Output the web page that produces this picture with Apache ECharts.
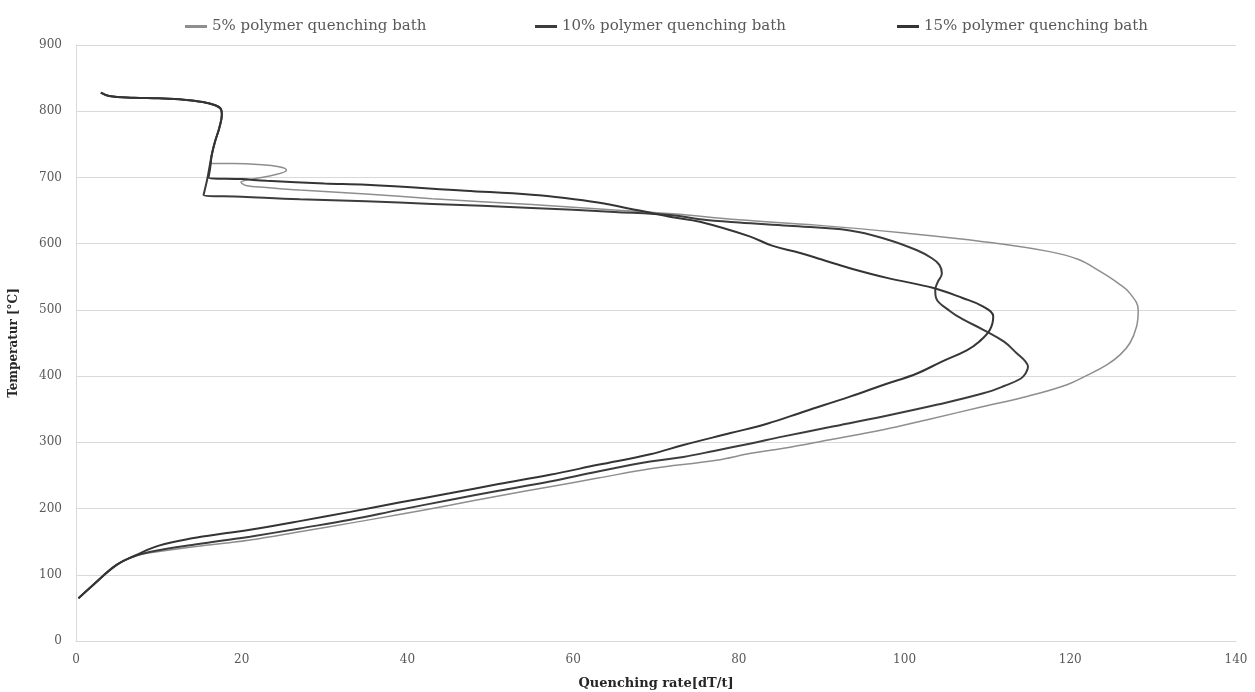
<!DOCTYPE html>
<html>
<head>
<meta charset="utf-8">
<title>Quenching rate vs temperature</title>
<script src="https://cdn.jsdelivr.net/npm/echarts@6/dist/echarts.min.js"></script>
<style>
  html, body { margin: 0; padding: 0; background: #ffffff; }
  #chart { width: 1255px; height: 692px; }
</style>
</head>
<body>
<div id="chart"></div>
<script>
// Cooling curves: quenching rate [dT/t] against temperature [°C]
const seriesNames = ['5% polymer quenching bath', '10% polymer quenching bath', '15% polymer quenching bath'];

const rate5 = [3, 4, 7, 10, 13, 15.3, 16.8, 17.5, 17.6, 17.3, 16.8, 16.4, 16.2, 19, 22, 24.5, 25.4, 24, 21.5, 19.9, 20.5, 23, 27, 35, 43, 55, 65, 72, 80, 89.4, 100, 109.5, 117.5, 121, 123.6, 125.8, 127.2, 128.2, 128, 127.2, 126, 124.4, 122, 119.6, 115, 109.5, 103, 97.4, 91, 85.4, 81.3, 77.3, 69.3, 63, 57.2, 51, 45.1, 39, 33.1, 27, 21, 18.2, 14, 10, 7.3, 4.9, 2.1, 0.3];
const temp5 = [828, 823, 820.5, 819.5, 817.5, 814, 809, 803, 795, 775, 755, 735, 721, 721, 719.5, 716, 711, 704, 698, 693, 688, 685, 681, 675, 668, 659, 651, 645, 636, 628, 616, 603, 588, 576, 558, 540, 525, 500, 475, 450, 432, 417, 401, 387, 370, 354, 335, 319, 304, 291, 283, 273, 260, 246, 233, 219, 205, 191, 178, 165, 152.5, 148, 142, 135, 129, 115, 85, 64.5];

const rate10 = [3, 4, 7, 10, 13, 15.3, 16.8, 17.5, 17.6, 17.3, 16.8, 16.4, 16.1, 15.8, 15.4, 20, 27, 35, 43, 55, 65, 72, 75.3, 80, 86, 93.4, 98, 101.5, 103.3, 104.2, 104.5, 104, 103.7, 103.8, 105.5, 107, 109.5, 112, 113.5, 114.6, 114.9, 114.6, 114, 112, 109.5, 104, 97.4, 91, 85.4, 81.3, 77, 73.3, 69.3, 63, 57.2, 51, 45.1, 39, 33.1, 27, 21, 18.2, 14, 10, 7.3, 4.9, 2.1, 0.3];
const temp10 = [828, 823, 820.5, 819.5, 817.5, 814, 809, 803, 795, 775, 755, 735, 715, 695, 673.5, 671, 667, 664, 660, 654, 648, 643, 637, 632, 627, 620, 606, 590, 578, 568, 555, 542, 530, 518, 498, 486, 470, 452, 435, 422, 414, 404, 396, 385, 374, 357, 339, 323, 309, 298, 287, 278, 271, 256, 241, 227, 213, 198, 183, 170, 157.5, 152.5, 145, 137, 129, 115, 85, 64.5];

const rate15 = [3, 4, 7, 10, 13, 15.3, 16.8, 17.5, 17.6, 17.3, 16.8, 16.4, 16.2, 16, 20, 23, 30, 35, 47, 55, 59, 63, 68, 72, 75.3, 81.3, 84, 87.4, 90, 93.4, 98, 103.5, 107, 109.5, 110.7, 110.3, 109, 107.5, 104.5, 101.5, 97.5, 93.4, 88, 83.4, 79, 73.3, 69.3, 63, 57.2, 51, 45.1, 39, 33.1, 27, 21, 18.2, 14, 10, 7.3, 4.9, 2.1, 0.3];
const temp15 = [828, 823, 820.5, 819.5, 817.5, 814, 809, 803, 795, 775, 755, 735, 715, 700, 697.5, 695, 691, 689, 680, 674, 669, 662, 650, 640, 633, 611, 597, 586, 576, 563, 548, 533, 518, 505, 490, 470, 452, 439, 422, 404, 387, 369, 347, 328, 314, 296, 282, 266, 251, 237, 223, 209, 195, 181, 168, 163, 155, 144, 130, 115, 85, 64.5];

const lineColors = ['#8e8e8e', '#3c3c3c', '#343434'];
const lineWidths = [1.5, 2, 2];
const legendLeft = [180, 530, 892];

function pairs(xs, ys) {
  return xs.map((x, i) => [x, ys[i]]);
}

const curves = [pairs(rate5, temp5), pairs(rate10, temp10), pairs(rate15, temp15)];

const FONT = 'DejaVu Serif';
const chart = echarts.init(document.getElementById('chart'), null, { renderer: 'canvas' });

chart.setOption({
  animation: false,
  backgroundColor: '#ffffff',
  textStyle: { fontFamily: FONT },
  // one legend block per series so each entry sits at its own place along the top
  legend: seriesNames.map((n, i) => ({
    top: 14,
    left: legendLeft[i],
    itemWidth: 22,
    itemHeight: 3,
    icon: 'rect',
    textStyle: { fontFamily: FONT, fontSize: 15, color: '#595959' },
    data: [{ name: n, itemStyle: { color: lineColors[i] } }]
  })),
  grid: { left: 76, right: 19, top: 45, bottom: 51, containLabel: false, outerBoundsMode: 'none' },
  xAxis: {
    type: 'value',
    min: 0,
    max: 140,
    interval: 20,
    name: 'Quenching rate[dT/t]',
    nameLocation: 'middle',
    nameGap: 36,
    nameTextStyle: { fontFamily: FONT, fontSize: 13, fontWeight: 'bold', color: '#262626' },
    axisLine: { show: true, lineStyle: { color: '#d9d9d9', width: 1 } },
    axisTick: { show: false },
    axisLabel: { margin: 13, fontFamily: FONT, fontSize: 12, color: '#595959' },
    splitLine: { show: false }
  },
  yAxis: {
    type: 'value',
    min: 0,
    max: 900,
    interval: 100,
    name: 'Temperatur [°C]',
    nameLocation: 'middle',
    nameGap: 56,
    nameTextStyle: { fontFamily: FONT, fontSize: 12, fontWeight: 'bold', color: '#262626' },
    axisLine: { show: true, lineStyle: { color: '#d9d9d9', width: 1 } },
    axisTick: { show: false },
    axisLabel: { margin: 14, fontFamily: FONT, fontSize: 12, color: '#595959' },
    splitLine: { show: true, lineStyle: { color: '#d9d9d9', width: 1 } }
  },
  series: curves.map((data, i) => ({
    name: seriesNames[i],
    type: 'line',
    data: data,
    smooth: 0.4,
    showSymbol: false,
    symbol: 'none',
    lineStyle: { color: lineColors[i], width: lineWidths[i] },
    itemStyle: { color: lineColors[i] },
    z: 2 + i
  }))
});
</script>
</body>
</html>
